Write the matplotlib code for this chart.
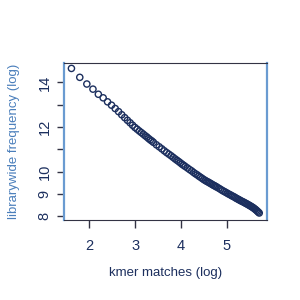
import numpy as np
import matplotlib
matplotlib.use("Agg")
import matplotlib.pyplot as plt

plt.rcParams['font.family'] = ['Liberation Sans', 'DejaVu Sans']

# kmer match counts (x axis is log of these)
kmer_counts = [5, 6, 7, 8, 9, 10, 11, 12, 13, 14, 15, 16, 17, 18, 19, 20,
               21, 22, 23, 24, 25, 26, 27, 28, 29, 30,
               32, 34, 36, 38, 40, 42, 44, 46, 48, 50, 52, 54, 56, 58, 60,
               63, 66, 69, 72, 75, 78, 81, 84, 87, 90, 93, 96, 99, 102, 105,
               108, 111, 114, 117, 120,
               125, 130, 135, 140, 145, 150, 155, 160, 165, 170, 175, 180,
               185, 190, 195, 200,
               206, 212, 218, 224, 230, 236, 242, 248, 254, 260, 266, 272,
               278, 284, 290, 296, 302]

# librarywide frequency (already log)
lib_freq_log = [14.63, 14.23, 13.93, 13.70, 13.47, 13.31, 13.13, 12.98, 12.83,
                12.69, 12.55, 12.42, 12.30, 12.19, 12.08, 11.98,
                11.90, 11.82, 11.75, 11.68, 11.61, 11.55, 11.48, 11.42, 11.37, 11.31,
                11.20, 11.11, 11.02, 10.93, 10.85, 10.78, 10.71, 10.64, 10.57,
                10.51, 10.45, 10.39, 10.33, 10.28, 10.23,
                10.16, 10.09, 10.03, 9.96, 9.90, 9.85, 9.79, 9.74, 9.69, 9.64,
                9.60, 9.56, 9.53, 9.49, 9.46, 9.42, 9.39, 9.36, 9.33, 9.30,
                9.25, 9.20, 9.15, 9.11, 9.07, 9.03, 8.99, 8.96, 8.92, 8.89,
                8.86, 8.82, 8.79, 8.76, 8.73, 8.70,
                8.67, 8.64, 8.61, 8.58, 8.55, 8.52, 8.49, 8.46, 8.43, 8.40,
                8.37, 8.33, 8.30, 8.26, 8.22, 8.18, 8.14]

x_ticks = [2, 3, 4, 5]
y_ticks = [8, 9, 10, 11, 12, 13, 14]
y_ticklabels = ['8', '9', '10', '', '12', '', '14']

navy = '#1c2f5e'
blue = '#6a9bd1'
dark = '#333344'

fig = plt.figure(figsize=(3, 3), dpi=100)
ax = fig.add_axes([0.213, 0.267, 0.677, 0.522])

x = np.log(kmer_counts)
ax.scatter(x, lib_freq_log, s=20, facecolors='none', edgecolors=navy,
           linewidths=1.0)

ax.set_xlim(1.445, 5.88)
ax.set_ylim(7.83, 14.86)

ax.set_xticks(x_ticks)
ax.set_xticklabels([str(t) for t in x_ticks])
ax.set_yticks(y_ticks)
ax.set_yticklabels(y_ticklabels, rotation=90, va='center')

ax.tick_params(axis='x', length=6, width=1, color=dark, labelsize=10.5,
               labelcolor=navy, pad=8)
ax.tick_params(axis='y', length=5, width=1, color=dark, labelsize=10.5,
               labelcolor=navy, pad=4)
ax.get_xticklines()[-2].set_color(blue)

ax.spines['left'].set_color(blue)
ax.spines['right'].set_color(blue)
ax.spines['left'].set_linewidth(1.6)
ax.spines['right'].set_linewidth(1.6)
ax.spines['top'].set_color(dark)
ax.spines['bottom'].set_color(dark)

ax.set_xlabel('kmer matches (log)', fontsize=9.5, color=navy)
ax.xaxis.set_label_coords(0.5, -0.30)
ax.set_ylabel('librarywide frequency (log)', fontsize=9.5, color='#4a7ebb')
ax.yaxis.set_label_coords(-0.215, 0.5)

fig.savefig('out.png', dpi=100)
